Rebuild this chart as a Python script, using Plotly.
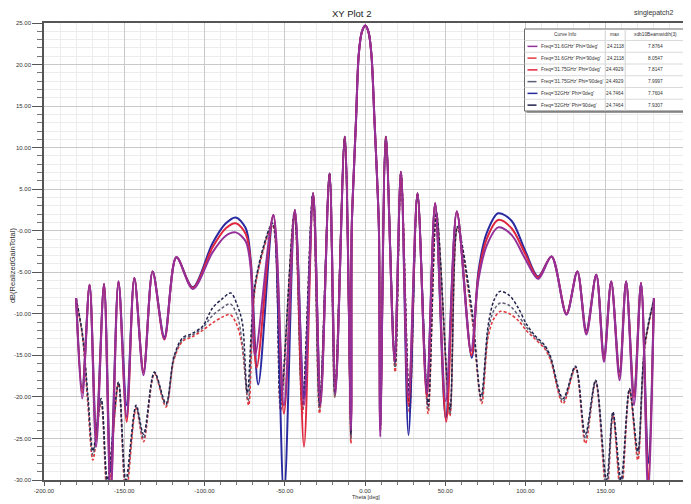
import plotly.graph_objects as go

# ---------------- data ----------------
main_theta = [-8.3, -7.2, -5.6, -3.9, -2.0, 0.2, 2.2, 4.0, 5.9, 7.6, 8.7]
main_db = [0.0, 6.0, 13.3, 21.2, 23.9, 24.7, 23.9, 21.2, 13.3, 6.0, 0.0]

# Freq 31.6GHz, Phi 0deg (solid purple)
s1_theta = [-180, -176.2, -171.6, -167.5, -162.6, -158.5, -153.6, -148.5, -143.7, -138.0, -132.3, -125.0,
            -117.5, -107.3, -95.0, -86.7, -80.5, -74.3, -71.2, -68.5, -57.1, -50.5, -43.7, -38.0, -32.3,
            -27.7, -22.1, -18.4, -12.6, -8.7] + main_theta + [
            9.5, 13.0, 18.4, 22.4, 27.1, 32.7, 38.5, 43.7, 50.3, 57.2, 66.0, 70.6, 75.8, 83.0, 91.3, 99.6,
            107.9, 116.2, 125.5, 132.3, 137.9, 144.1, 148.9, 153.4, 158.6, 162.7, 167.6, 172.0, 176.5, 180]
s1_db = [-8.1, -20.2, -6.5, -26.0, -6.4, -32.0, -6.1, -22.4, -5.7, -17.4, -4.9, -13.0,
         -3.2, -7.0, -2.6, -0.6, -0.2, -1.3, -4.5, -15.0, 1.9, -21.0, 2.5, -21.0, 4.5,
         -21.0, 6.9, -19.6, 11.3, -24.0] + main_db + [
         -24.8, 11.3, -15.8, 7.1, -20.0, 4.5, -19.6, 3.3, -20.5, 2.3, -14.5, -6.0, -1.8, 0.4, -0.5, -3.3,
         -5.8, -3.1, -10.1, -4.9, -12.5, -5.3, -15.8, -6.1, -18.0, -6.1, -21.0, -6.3, -32.0, -8.1]

# Freq 31.75GHz, Phi 0deg (solid red)
s3_theta = [-180, -176.2, -171.6, -167.5, -162.6, -158.5, -153.6, -148.5, -143.7, -138.0, -132.3, -125.0,
            -117.5, -107.3, -95.0, -86.7, -80.5, -74.3, -71.2, -67.5, -57.1, -50.5, -43.7, -38.0, -32.3,
            -27.7, -22.1, -18.4, -12.6, -8.7] + main_theta + [
            9.5, 13.0, 18.4, 22.4, 27.1, 32.7, 38.5, 43.7, 50.6, 57.2, 66.3, 70.6, 75.8, 83.0, 91.3, 99.6,
            107.9, 116.2, 125.5, 132.3, 137.9, 144.1, 148.9, 153.4, 158.6, 162.7, 167.6, 172.0, 176.5, 180]
s3_db = [-8.1, -19.5, -6.5, -25.0, -6.4, -31.0, -6.1, -23.0, -5.7, -17.0, -4.9, -13.1,
         -3.2, -6.9, -2.0, 0.3, 0.9, -0.4, -4.0, -16.5, 1.9, -22.0, 2.5, -26.0, 4.5,
         -20.5, 6.9, -19.0, 11.3, -23.5] + main_db + [
         -24.0, 11.3, -15.5, 7.1, -21.0, 4.5, -20.0, 3.3, -23.0, 2.3, -15.0, -5.5, -1.0, 1.3, 0.3, -2.7,
         -5.6, -3.1, -10.0, -4.9, -12.3, -5.3, -15.5, -6.1, -17.5, -6.1, -20.0, -6.3, -30.0, -8.1]

# Freq 32GHz, Phi 0deg (solid blue)
s5_theta = [-180, -176.2, -171.6, -167.5, -162.6, -158.5, -153.6, -148.5, -143.7, -138.0, -132.3, -125.0,
            -117.5, -107.3, -95.0, -86.7, -80.5, -74.3, -71.2, -66.5, -57.1, -50.5, -43.7, -38.0, -32.3,
            -27.7, -22.1, -18.4, -12.6, -8.7] + main_theta + [
            9.5, 13.0, 18.4, 22.4, 27.1, 32.7, 38.5, 43.7, 50.3, 57.2, 66.5, 70.6, 75.8, 83.0, 91.3, 99.6,
            107.9, 116.2, 125.5, 132.3, 137.9, 144.1, 148.9, 153.4, 158.6, 162.7, 167.6, 172.0, 176.5, 180]
s5_db = [-8.1, -19.0, -6.5, -24.0, -6.4, -29.0, -6.1, -21.0, -5.7, -17.0, -4.9, -12.8,
         -3.2, -6.8, -1.5, 0.9, 1.6, 0.3, -3.5, -18.5, 1.9, -32.0, 2.5, -20.0, 4.5,
         -20.0, 6.9, -19.0, 11.3, -23.0] + main_db + [
         -23.5, 11.3, -15.0, 7.1, -24.6, 4.5, -19.0, 3.3, -22.6, 2.3, -15.3, -5.0, -0.3, 2.1, 1.2, -2.3,
         -5.5, -3.1, -10.0, -4.9, -12.0, -5.3, -15.0, -6.1, -17.0, -6.1, -19.5, -6.3, -28.0, -8.1]

# Freq 31.6GHz, Phi 90deg (dashed red)
d1_theta = [-180, -176.0, -172.6, -169.5, -164.4, -160.5, -153.6, -149.0, -142.6, -138.0, -131.2, -124.0,
            -119.0, -113.7, -108.0, -101.2, -95.0, -89.0, -84.0, -79.5, -76.5, -72.5, -68.0, -57.5, -52.6,
            -44.0, -39.0, -32.5, -28.3, -22.1, -18.8, -12.6, -8.8] + main_theta + [
            9.6, 13.0, 18.8, 22.4, 27.8, 32.7, 39.3, 44.5, 52.9, 57.5, 66.5, 72.7, 76.8, 80.5, 84.5, 90.0,
            95.5, 100.5, 105.8, 112.0, 115.5, 123.4, 131.1, 137.3, 143.7, 150.5, 154.5, 159.5, 164.8,
            170.0, 174.2, 180]
d1_db = [-8.3, -12.8, -21.0, -27.6, -20.6, -32.0, -18.4, -32.0, -21.4, -25.4, -17.2, -21.2,
         -15.5, -13.3, -12.8, -12.0, -11.1, -10.4, -10.1, -11.5, -14.0, -21.0, -6.3, 0.5, -21.6,
         2.0, -22.0, 4.3, -22.0, 6.9, -20.0, 11.3, -25.6] + main_db + [
         -24.0, 11.3, -17.0, 7.0, -22.0, 4.3, -22.0, 2.0, -22.3, 0.3, -10.3, -20.8, -12.7, -10.5, -9.7, -10.0,
         -10.8, -12.0, -13.0, -14.2, -15.5, -20.8, -16.5, -25.6, -18.2, -32.0, -22.2, -32.0, -19.2,
         -27.6, -14.3, -8.4]

# Freq 31.75GHz, Phi 90deg (dashed grey)
d3_theta = [-180, -176.0, -172.6, -169.5, -164.4, -160.5, -153.6, -149.0, -142.6, -138.0, -131.2, -124.0,
            -119.0, -113.7, -108.0, -101.2, -95.0, -89.0, -84.0, -79.5, -76.5, -72.8, -68.0, -57.5, -52.6,
            -44.0, -39.0, -32.5, -28.3, -22.1, -18.8, -12.6, -8.8] + main_theta + [
            9.6, 13.0, 18.8, 22.4, 27.8, 32.7, 39.3, 44.5, 52.9, 57.5, 66.5, 72.5, 76.8, 80.5, 84.3, 90.0,
            95.5, 100.5, 105.8, 112.0, 115.5, 123.4, 131.1, 137.3, 143.7, 150.5, 154.5, 159.5, 164.8,
            170.0, 174.2, 180]
d3_db = [-8.2, -12.6, -20.5, -27.0, -20.4, -31.0, -18.3, -31.0, -21.2, -25.0, -17.1, -21.0,
         -15.3, -13.1, -12.6, -11.7, -10.2, -9.3, -8.8, -10.3, -13.5, -20.5, -6.0, 0.7, -21.0,
         2.1, -21.5, 4.4, -21.5, 6.9, -20.0, 11.3, -25.0] + main_db + [
         -23.5, 11.3, -16.5, 7.0, -21.5, 4.4, -21.5, 2.1, -22.0, 0.4, -9.8, -20.4, -12.0, -9.5, -8.7, -9.0,
         -10.2, -11.6, -12.8, -14.0, -15.3, -20.5, -16.4, -25.0, -18.1, -31.0, -22.0, -31.0, -19.1,
         -27.0, -14.0, -8.3]

# Freq 32GHz, Phi 90deg (dashed dark)
d5_theta = [-180, -176.0, -172.6, -169.5, -164.4, -160.5, -153.6, -149.0, -142.6, -138.0, -131.2, -124.0,
            -119.0, -113.7, -108.0, -101.2, -95.0, -89.0, -83.6, -79.5, -76.4, -73.3, -68.0, -57.5, -52.6,
            -44.0, -39.0, -32.5, -28.3, -22.1, -18.8, -12.6, -8.8] + main_theta + [
            9.6, 13.0, 18.8, 22.4, 27.8, 32.7, 39.3, 44.5, 52.9, 57.5, 66.5, 72.3, 76.8, 80.5, 84.1, 90.0,
            95.5, 100.5, 105.8, 112.0, 115.5, 123.4, 131.1, 137.3, 143.7, 150.5, 154.5, 159.5, 164.8,
            170.0, 174.2, 180]
d5_db = [-8.1, -12.5, -20.0, -26.5, -20.2, -30.0, -18.2, -30.0, -21.0, -24.5, -17.0, -20.8,
         -15.1, -12.9, -12.4, -11.5, -9.3, -8.2, -7.5, -9.0, -11.1, -19.5, -5.8, 0.9, -20.5,
         2.2, -21.0, 4.5, -21.0, 6.9, -19.5, 11.3, -24.5] + main_db + [
         -23.0, 11.3, -16.0, 7.0, -21.0, 4.5, -21.0, 2.2, -21.5, 0.5, -9.3, -20.0, -11.3, -8.3, -7.3, -7.8,
         -9.3, -11.2, -12.6, -13.8, -15.1, -20.2, -16.3, -24.5, -18.0, -30.0, -21.8, -30.0, -19.0,
         -26.5, -13.8, -8.2]

legend_names = ["Freq='31.6GHz' Phi='0deg'", "Freq='31.6GHz' Phi='90deg'",
                "Freq='31.75GHz' Phi='0deg'", "Freq='31.75GHz' Phi='90deg'",
                "Freq='32GHz' Phi='0deg'", "Freq='32GHz' Phi='90deg'"]
max_vals = ["24.2118", "24.2118", "24.4929", "24.4929", "24.7464", "24.7464"]
bw_vals = ["7.8764", "8.0547", "7.8147", "7.9997", "7.7604", "7.9307"]
header = ["Curve Info", "max", "xdb10Beamwidth(3)"]

x_tickvals = [-200, -150, -100, -50, 0, 50, 100, 150, 200]
x_ticktext = ["-200.00", "-150.00", "-100.00", "-50.00", "0.00", "50.00", "100.00", "150.00", "200.00"]
y_tickvals = [25, 20, 15, 10, 5, 0, -5, -10, -15, -20, -25, -30]
y_ticktext = ["25.00", "20.00", "15.00", "10.00", "5.00", "-0.00", "-5.00", "-10.00", "-15.00",
              "-20.00", "-25.00", "-30.00"]

# ---------------- styles ----------------
series = [
    (s1_theta, s1_db, "#94309a", "solid", 2.0),
    (d1_theta, d1_db, "#e23a3e", "3px,2px", 1.6),
    (s3_theta, s3_db, "#e0263e", "solid", 2.0),
    (d3_theta, d3_db, "#5e5e78", "3px,2px", 1.5),
    (s5_theta, s5_db, "#2a2aa0", "solid", 2.0),
    (d5_theta, d5_db, "#22224e", "3px,2px", 1.5),
]
draw_order = [1, 3, 5, 4, 2, 0]

# page layout: the html body adds an 8px offset top/left, so the figure is
# sized to end exactly at the 691x504 window edge
OFF = 8
W, H = 691 - OFF, 504 - OFF
PL, PR, PT, PB = 44, 688, 23, 480          # plot area in page pixels
ML, MT = PL - OFF, PT - OFF
MR, MB = W - (PR - OFF), H - (PB - OFF)
PW, PH = PR - PL, PB - PT
FONT = "Liberation Sans, Arial, sans-serif"
LFS = 4.8  # legend table font size


def fx(p):
    return (p - PL) / PW


def fy(p):
    return (PB - p) / PH


fig = go.Figure()
for i in draw_order:
    th, db, col, dash, lw = series[i]
    fig.add_trace(go.Scatter(x=th, y=db, mode="lines", name=legend_names[i],
                             line=dict(color=col, width=lw, dash=dash, shape="spline", smoothing=0.9),
                             showlegend=False, hoverinfo="skip"))

shapes = []
annots = []

# legend table
L, R, T = 526, 687, 29
C1, C2 = 607, 627
HH, RH = 11.5, 11.75
B = T + HH + RH * len(legend_names)
shapes.append(dict(type="rect", xref="paper", yref="paper", x0=fx(L + 2), x1=fx(R + 1.5), y0=fy(B + 2), y1=fy(T + 2),
                   line=dict(width=0), fillcolor="#9a9a9a", layer="above"))
shapes.append(dict(type="rect", xref="paper", yref="paper", x0=fx(L), x1=fx(R), y0=fy(B), y1=fy(T),
                   line=dict(color="#6a6a6a", width=1), fillcolor="white", layer="above"))
for xc in (C1, C2):
    shapes.append(dict(type="line", xref="paper", yref="paper", x0=fx(xc), x1=fx(xc), y0=fy(B), y1=fy(T),
                       line=dict(color="#d0d0d0", width=1), layer="above"))
for k in range(len(legend_names)):
    yl = T + HH + RH * k
    shapes.append(dict(type="line", xref="paper", yref="paper", x0=fx(L), x1=fx(R), y0=fy(yl), y1=fy(yl),
                       line=dict(color="#dadada", width=1), layer="above"))
hdr_x = [(L + C1) / 2, (C1 + C2) / 2, (C2 + R) / 2]
for t, xc in zip(header, hdr_x):
    annots.append(dict(x=fx(xc), y=fy(T + HH / 2), xref="paper", yref="paper", text=t, showarrow=False,
                       font=dict(size=LFS, color="#333", family=FONT), xanchor="center", yanchor="middle"))
for k in range(len(legend_names)):
    _, _, col, dash, _ = series[k]
    yc = T + HH + RH * k + RH / 2
    shapes.append(dict(type="line", xref="paper", yref="paper", x0=fx(L + 3), x1=fx(L + 13), y0=fy(yc), y1=fy(yc),
                       line=dict(color=col, width=1.5, dash="dash" if dash != "solid" else "solid"), layer="above"))
    annots.append(dict(x=fx(L + 15), y=fy(yc), xref="paper", yref="paper", text=legend_names[k], showarrow=False,
                       font=dict(size=LFS, color="#333", family=FONT), xanchor="left", yanchor="middle"))
    annots.append(dict(x=fx((C1 + C2) / 2), y=fy(yc), xref="paper", yref="paper", text=max_vals[k],
                       showarrow=False, font=dict(size=LFS, color="#333", family=FONT), xanchor="center",
                       yanchor="middle"))
    annots.append(dict(x=fx((C2 + R) / 2), y=fy(yc), xref="paper", yref="paper", text=bw_vals[k],
                       showarrow=False, font=dict(size=LFS, color="#333", family=FONT), xanchor="center",
                       yanchor="middle"))

# titles
annots.append(dict(x=fx(352), y=fy(13), xref="paper", yref="paper", text="XY Plot 2", showarrow=False,
                   font=dict(size=9.5, color="#222", family=FONT), xanchor="center", yanchor="middle"))
annots.append(dict(x=fx(677), y=fy(13), xref="paper", yref="paper", text="singlepatch2", showarrow=False,
                   font=dict(size=7, color="#333", family=FONT), xanchor="right", yanchor="middle"))
annots.append(dict(x=fx(367), y=fy(497), xref="paper", yref="paper", text="Theta [deg]", showarrow=False,
                   font=dict(size=5.5, color="#333", family=FONT), xanchor="center", yanchor="middle",
                   borderpad=0))
annots.append(dict(x=fx(12), y=fy(265), xref="paper", yref="paper", text="dB(RealizedGainTotal)",
                   showarrow=False, textangle=-90,
                   font=dict(size=7.5, color="#333", family=FONT), xanchor="center", yanchor="middle"))

fig.update_layout(
    width=W, height=H,
    margin=dict(l=ML, r=MR, t=MT, b=MB, pad=0),
    paper_bgcolor="white", plot_bgcolor="white",
    shapes=shapes, annotations=annots,
    font=dict(family=FONT, size=6, color="#333"),
    xaxis=dict(range=[-200, 200], tickmode="array", tickvals=x_tickvals, ticktext=x_ticktext,
               showgrid=True, gridcolor="#c9c9c9", gridwidth=1,
               ticks="outside", ticklen=4, tickcolor="#555", tickfont=dict(size=6, color="#333"),
               showline=True, linecolor="#555", linewidth=1.5, mirror=True, zeroline=False,
               minor=dict(tickmode="linear", tick0=0, dtick=10, showgrid=True, gridcolor="#ececec",
                          ticks="outside", ticklen=3, tickcolor="#777")),
    yaxis=dict(range=[-30, 25], tickmode="array", tickvals=y_tickvals, ticktext=y_ticktext,
               showgrid=True, gridcolor="#c9c9c9", gridwidth=1,
               ticks="outside", ticklen=10, tickcolor="#555", tickfont=dict(size=6, color="#333"),
               showline=True, linecolor="#555", linewidth=1.5, mirror=True, zeroline=False,
               minor=dict(tickmode="linear", tick0=0, dtick=1, showgrid=True, gridcolor="#ececec",
                          ticks="outside", ticklen=5, tickcolor="#777")),
)

fig.write_html("out.html")
